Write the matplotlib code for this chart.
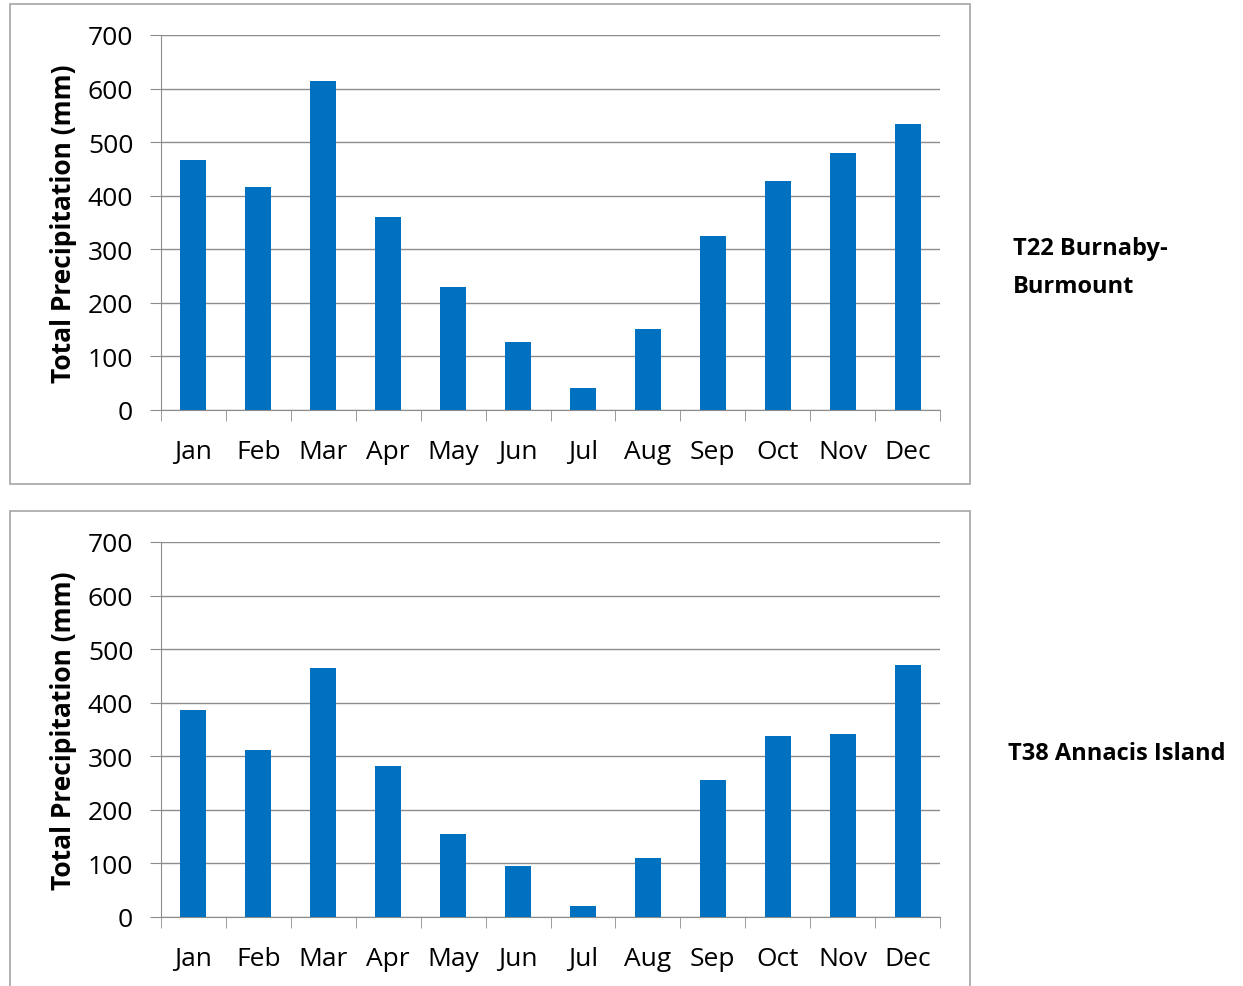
import matplotlib
matplotlib.use("Agg")
import matplotlib.pyplot as plt
from matplotlib.patches import Rectangle

plt.rcParams["font.family"] = ["Open Sans", "DejaVu Sans"]

months = ["Jan", "Feb", "Mar", "Apr", "May", "Jun", "Jul", "Aug", "Sep", "Oct", "Nov", "Dec"]
burnaby = [467, 417, 614, 360, 230, 127, 41, 151, 325, 428, 480, 534]
annacis = [386, 312, 465, 282, 155, 95, 21, 110, 256, 338, 342, 470]
stations = ["T22 Burnaby-\nBurmount", "T38 Annacis Island"]

BLUE, GRID, FRAME = "#0070C0", "#8c8c8c", "#a6a6a6"
W, H = 1243, 987
fig = plt.figure(figsize=(W / 100, H / 100), dpi=100)

def px(x0, y0, x1, y1):
    return [x0 / W, 1 - y1 / H, (x1 - x0) / W, (y1 - y0) / H]

panels = [(burnaby, 36, 411, 5, 485, (1013, 268), stations[0]),
          (annacis, 543, 918, 512, 992, (1008, 754), stations[1])]

for vals, top, bot, ftop, fbot, (lx, ly), name in panels:
    fig.add_artist(Rectangle((10 / W, 1 - fbot / H), 960 / W, (fbot - ftop) / H,
                             transform=fig.transFigure, fill=False, ec=FRAME, lw=1.2))
    ax = fig.add_axes(px(161, top, 940, bot))
    ax.bar(range(len(months)), vals, width=0.4, color=BLUE, zorder=3)
    ax.set_xlim(-0.5, len(months) - 0.5)
    ax.set_ylim(0, 700)
    ax.set_yticks(range(0, 701, 100))
    ax.grid(axis="y", color=GRID, lw=1, zorder=0)
    ax.set_xticks(range(len(months)))
    ax.set_xticklabels(months)
    ax.set_xticks([i - 0.5 for i in range(len(months) + 1)], minor=True)
    ax.tick_params(axis="x", which="major", length=0, pad=21, labelsize=19)
    ax.tick_params(axis="x", which="minor", length=8, color=GRID, direction="out")
    ax.tick_params(axis="y", length=8, color=GRID, labelsize=19, pad=12)
    for s in ("top", "right"):
        ax.spines[s].set_visible(False)
    for s in ("left", "bottom"):
        ax.spines[s].set_color(GRID)
    ax.set_ylabel("Total Precipitation (mm)", fontsize=19, fontweight="bold")
    ax.yaxis.set_label_coords(-0.108, 0.5)
    fig.text(lx / W, 1 - ly / H, name, fontsize=17, fontweight="bold",
             va="center", ha="left", linespacing=1.75)

fig.savefig("out.png", dpi=100, facecolor="white")
